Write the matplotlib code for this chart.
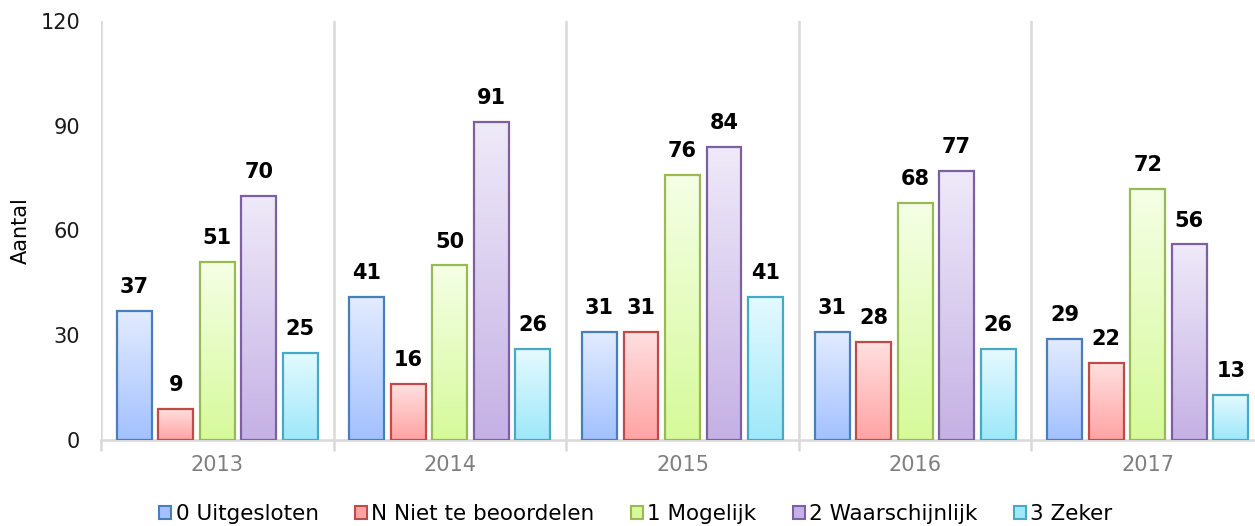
import numpy as np
import matplotlib
matplotlib.use("Agg")
import matplotlib.pyplot as plt
from matplotlib.colors import LinearSegmentedColormap
from matplotlib.patches import Patch

years = ["2013", "2014", "2015", "2016", "2017"]
labels = ["0 Uitgesloten", "N Niet te beoordelen", "1 Mogelijk",
          "2 Waarschijnlijk", "3 Zeker"]
uitgesloten = [37, 41, 31, 31, 29]
niet_te_beoordelen = [9, 16, 31, 28, 22]
mogelijk = [51, 50, 76, 68, 72]
waarschijnlijk = [70, 91, 84, 77, 56]
zeker = [25, 26, 41, 26, 13]
series = [uitgesloten, niet_te_beoordelen, mogelijk, waarschijnlijk, zeker]

# edge colour, gradient bottom, gradient top
styles = [
    ("#4A7EBB", "#A3C1FF", "#E3ECFF"),
    ("#BE4B48", "#FFA3A3", "#FFE0E0"),
    ("#98B954", "#D6FA9A", "#F5FFE6"),
    ("#7D60A0", "#C5B1E5", "#EFEAF9"),
    ("#46AAC5", "#9EE8FA", "#E5FAFF"),
]

plt.rcParams['font.family'] = ['DejaVu Sans']

fig = plt.figure(figsize=(12.55, 5.26), dpi=100)
ax = fig.add_axes([101 / 1255, 1 - 440 / 526, 1163 / 1255, 419 / 526])

pitch = 0.1785
width = 0.15
x = np.arange(len(years))
grad = np.linspace(0, 1, 256).reshape(-1, 1)

for i, (vals, (edge, bot, top)) in enumerate(zip(series, styles)):
    cmap = LinearSegmentedColormap.from_list("g%d" % i, [bot, top])
    xs = x + (i - 2) * pitch
    for xc, v in zip(xs, vals):
        ax.imshow(grad, cmap=cmap, origin="lower", aspect="auto",
                  extent=[xc - width / 2, xc + width / 2, 0, v], zorder=2)
        ax.annotate(str(v), (xc, v), xytext=(0, 10), textcoords="offset points",
                    ha="center", va="bottom", fontsize=15, fontweight="bold",
                    color="black", zorder=4)
    ax.bar(xs, vals, width, facecolor="none", edgecolor=edge, linewidth=1.6,
           zorder=3)

ax.set_xlim(-0.5, 4.5)
ax.set_ylim(0, 120)

# category separators
for b in np.arange(-0.5, 5, 1.0):
    ax.axvline(b, color="#D9D9D9", linewidth=1.8, zorder=0)

for s in ["top", "right", "left"]:
    ax.spines[s].set_visible(False)
ax.spines["bottom"].set_color("#D9D9D9")
ax.spines["bottom"].set_linewidth(1.8)

ax.set_xticks(np.arange(-0.5, 5, 1.0))
ax.set_xticklabels([])
ax.set_xticks(x, minor=True)
ax.set_xticklabels(years, minor=True, fontsize=15, color="#7F7F7F")
ax.tick_params(axis="x", which="major", length=8, width=1.8, color="#D9D9D9")
ax.tick_params(axis="x", which="minor", length=0, pad=11)

ax.set_yticks([0, 30, 60, 90, 120])
ax.tick_params(axis="y", length=0, pad=15, labelsize=15, labelcolor="#1A1A1A")
ax.set_ylabel("Aantal", fontsize=15)
ax.yaxis.set_label_coords(-0.06, 0.5)

handles = [Patch(facecolor=bot, edgecolor=edge, linewidth=1.5)
           for edge, bot, top in styles]
fig.legend(handles, labels, loc="center", bbox_to_anchor=(636 / 1255, 1 - 514 / 526),
           ncol=5, frameon=False, fontsize=15.5, handlelength=0.55, handleheight=0.55,
           handletextpad=0.2, columnspacing=1.7)

fig.savefig("out.png", dpi=100)
